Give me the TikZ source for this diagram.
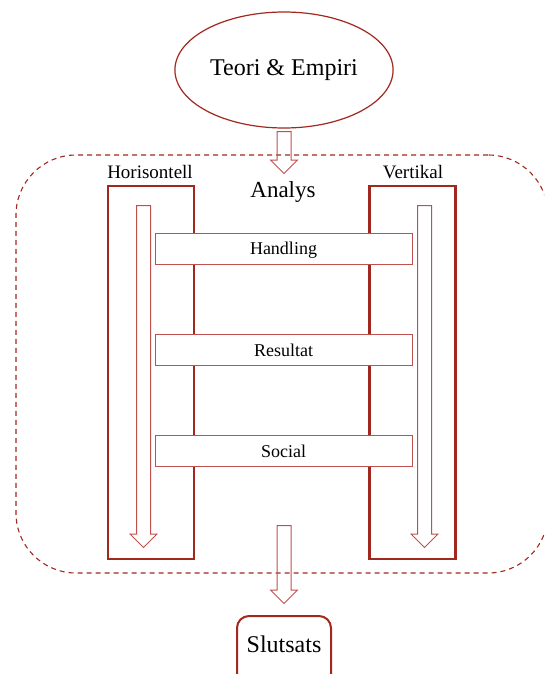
\documentclass[tikz,border=0pt]{standalone}
\usepackage{fontspec}
\setmainfont{Liberation Serif}
\usepackage{tikz}
\usetikzlibrary{shapes.geometric,shapes.arrows}

\definecolor{darkred}{RGB}{160,40,30}
\definecolor{lightred}{RGB}{192,80,77}

\tikzset{
  bigbox/.style={draw=darkred, line width=2.2pt, minimum width=86pt, minimum height=373pt, inner sep=0pt},
  bar/.style={draw=lightred, line width=1pt, fill=white, minimum width=257pt, minimum height=31pt, inner sep=0pt, text height=14pt, text depth=2pt, font=\fontsize{18}{21}\selectfont},
  hollowarrow/.style={single arrow, draw=lightred, line width=1pt, shape border rotate=270, inner sep=6.5pt, single arrow head extend=6.5pt, single arrow tip angle=90, single arrow head indent=0pt},
  sidelabel/.style={font=\fontsize{19}{22}\selectfont, inner sep=0pt},
}

\begin{document}
\begin{tikzpicture}[x=1pt,y=1pt,yscale=-1]
\clip (0,0) rectangle (544,674);

%Shape: Rounded Rect, dashed
\node [draw=darkred, dashed, dash pattern=on 5pt off 4pt, line width=1.1pt, rounded corners=60pt, minimum width=532pt, minimum height=418pt, inner sep=0pt] (frame) at (282,364) {};

%Shape: Ellipse
\node [ellipse, draw=darkred, line width=1.2pt, fill=white, minimum width=180pt, minimum height=116pt, font=\fontsize{24}{28}\selectfont] (teori) at (284,70) {Teori \& Empiri};

%Text
\node [font=\fontsize{23}{27}\selectfont, inner sep=0pt] (analys) at (283,192) {Analys};

%Shape: Rectangle
\node [bigbox] (horis) at (151,372.5) {};
%Shape: Rectangle
\node [bigbox] (vert) at (412.5,372.5) {};
\node [sidelabel] (horislbl) at (150,172) {Horisontell};
\node [sidelabel] (vertlbl) at (413,172) {Vertikal};

%Shape: Down Arrow
\node [hollowarrow, minimum height=42pt] (toparrow) at (284,149) {};
%Shape: Down Arrow
\node [hollowarrow, minimum height=342pt] (leftarrow) at (143.5,373) {};
%Shape: Down Arrow
\node [hollowarrow, minimum height=342pt] (rightarrow) at (424.5,373) {};
%Shape: Down Arrow
\node [hollowarrow, minimum height=78pt] (botarrow) at (284,561) {};

%Shape: Rectangle
\node [bar] (handling) at (283.5,248.5) {Handling};
%Shape: Rectangle
\node [bar] (resultat) at (283.5,350) {Resultat};
%Shape: Rectangle
\node [bar] (social) at (283.5,451) {Social};

%Shape: Rounded Rect
\node [draw=darkred, line width=2pt, rounded corners=12pt, anchor=north, minimum width=94pt, inner xsep=0pt, inner ysep=20pt, text height=16pt, text depth=40pt, font=\fontsize{24}{28}\selectfont] (slutsats) at (284,615) {Slutsats};

\end{tikzpicture}
\end{document}
